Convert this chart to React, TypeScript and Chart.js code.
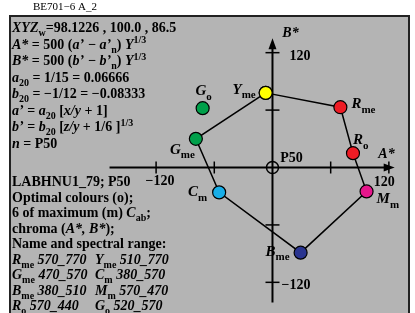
import React, { useEffect, useRef } from "react";
import { Chart, registerables } from "chart.js";
Chart.register(...registerables);

// ---- data ----
const polyNames = ["Y", "R", "R", "M", "B", "C", "G", "Y"];
const polySubs = ["me", "me", "o", "m", "me", "m", "me", "me"];
const polyA = [-7, 70, 83, 97, 29, -55, -79, -7];
const polyB = [78, 63, 15, -25, -89, -26, 30, 78];
const polyColors = ["#ffff00", "#ee1c25", "#ee1c25", "#e6168c", "#2a3590", "#18aee8", "#00a04a", "#ffff00"];
const openNames = ["G"];
const openSubs = ["o"];
const openA = [-72];
const openB = [62];
const openColors = ["#00a04a"];
const xTicks = [-120, -60, 60, 120];
const yTicks = [-120, -60, 60, 120];
const xTickLabels = ["\u2212120", "", "", "120"];
const yTickLabels = ["\u2212120", "", "", "120"];

const titleText = "BE701\u22126 A_2";
const FONT = '"Liberation Serif", "Times New Roman", serif';

type Seg = [string, string];
const upperLines: Seg[][] = [
  [["XYZ", "i"], ["w", "sub"], ["=98.1226 , 100.0 , 86.5", "b"]],
  [["A*", "i"], [" = 500 (", "b"], ["a\u2019 \u2212 a\u2019", "i"], ["n", "sub"], [") ", "b"], ["Y", "i"], ["1/3", "sup"]],
  [["B*", "i"], [" = 500 (", "b"], ["b\u2019 \u2212 b\u2019", "i"], ["n", "sub"], [") ", "b"], ["Y", "i"], ["1/3", "sup"]],
  [["a", "i"], ["20", "sub"], [" = 1/15 = 0.06666", "b"]],
  [["b", "i"], ["20", "sub"], [" = \u22121/12 = \u22120.08333", "b"]],
  [["a\u2019", "i"], [" = ", "b"], ["a", "i"], ["20", "sub"], [" [", "b"], ["x/y", "i"], [" + 1]", "b"]],
  [["b\u2019", "i"], [" = ", "b"], ["b", "i"], ["20", "sub"], [" [", "b"], ["z/y", "i"], [" + 1/6 ]", "b"], ["1/3", "sup"]],
  [["n", "i"], [" = P50", "b"]],
];
const lowerLines: Seg[][] = [
  [["LABHNU1_79; P50", "b"]],
  [["Optimal colours (o);", "b"]],
  [["6 of maximum (m) ", "b"], ["C", "i"], ["ab", "sub"], [";", "b"]],
  [["chroma (", "b"], ["A*, B*", "i"], [");", "b"]],
  [["Name and spectral range:", "b"]],
];
const rangeLeft: Seg[][] = [
  [["R", "i"], ["me", "sub"], [" 570_770", "i"]],
  [["G", "i"], ["me", "sub"], [" 470_570", "i"]],
  [["B", "i"], ["me", "sub"], [" 380_510", "i"]],
  [["R", "i"], ["o", "sub"], [" 570_440", "i"]],
];
const rangeRight: Seg[][] = [
  [["Y", "i"], ["me", "sub"], [" 510_770", "i"]],
  [["C", "i"], ["m", "sub"], [" 380_570", "i"]],
  [["M", "i"], ["m", "sub"], [" 570_470", "i"]],
  [["G", "i"], ["o", "sub"], [" 520_570", "i"]],
];

// label placement relative to point: [dx, dy, align]
const polyLabelPos: [number, number, string][] = [
  [-10, 1, "right"],
  [11, 1, "left"],
  [0, -9, "left"],
  [10, 12, "left"],
  [-11, 3, "right"],
  [-12, 4, "right"],
  [-1, 15, "right"],
  [0, 0, "none"],
];
const openLabelPos: [number, number, string][] = [[1, -13, "center"]];

function segFont(kind: string, size: number) {
  const s = kind === "sub" || kind === "sup" ? Math.round(size * 0.72) : size;
  const it = kind === "i" ? "italic " : "";
  return `${it}bold ${s}px ${FONT}`;
}
function segWidth(ctx: CanvasRenderingContext2D, segs: Seg[], size: number) {
  let w = 0;
  for (const [t, k] of segs) {
    ctx.font = segFont(k, size);
    w += ctx.measureText(t).width;
  }
  return w;
}
function drawRich(ctx: CanvasRenderingContext2D, x: number, y: number, segs: Seg[], size: number, align = "left") {
  let cx = x;
  const w = segWidth(ctx, segs, size);
  if (align === "right") cx = x - w;
  else if (align === "center") cx = x - w / 2;
  ctx.textAlign = "left";
  ctx.textBaseline = "alphabetic";
  for (const [t, k] of segs) {
    ctx.font = segFont(k, size);
    let yy = y;
    if (k === "sub") yy = y + size * 0.3;
    if (k === "sup") yy = y - size * 0.38;
    ctx.fillText(t, cx, yy);
    cx += ctx.measureText(t).width;
  }
}

const decor = {
  id: "decor",
  beforeDatasetsDraw(chart: any) {
    const ctx = chart.ctx as CanvasRenderingContext2D;
    const xs = chart.scales.x;
    const ys = chart.scales.y;
    ctx.save();
    // panel
    ctx.fillStyle = "#b4b4b4";
    ctx.fillRect(9, 15, 401, 300);
    ctx.strokeStyle = "#222";
    ctx.lineWidth = 2;
    ctx.strokeRect(10, 16, 399, 300);
    // title
    ctx.fillStyle = "#000";
    ctx.font = `11px ${FONT}`;
    ctx.textAlign = "left";
    ctx.textBaseline = "alphabetic";
    ctx.fillText(titleText, 33, 10);

    const ox = xs.getPixelForValue(0);
    const oy = ys.getPixelForValue(0);
    ctx.strokeStyle = "#000";
    ctx.fillStyle = "#000";
    ctx.lineWidth = 2;
    // horizontal axis
    const hx0 = xs.getPixelForValue(-168);
    const hx1 = xs.getPixelForValue(126);
    ctx.beginPath();
    ctx.moveTo(hx0, oy);
    ctx.lineTo(hx1 - 8, oy);
    ctx.stroke();
    ctx.beginPath();
    ctx.moveTo(hx1, oy);
    ctx.lineTo(hx1 - 11, oy - 4);
    ctx.lineTo(hx1 - 11, oy + 4);
    ctx.closePath();
    ctx.fill();
    // vertical axis
    const vy0 = ys.getPixelForValue(-141);
    const vy1 = ys.getPixelForValue(135);
    ctx.beginPath();
    ctx.moveTo(ox, vy0);
    ctx.lineTo(ox, vy1 + 8);
    ctx.stroke();
    ctx.beginPath();
    ctx.moveTo(ox, vy1);
    ctx.lineTo(ox - 4, vy1 + 11);
    ctx.lineTo(ox + 4, vy1 + 11);
    ctx.closePath();
    ctx.fill();
    // ticks
    ctx.lineWidth = 1.5;
    for (const t of xTicks) {
      const p = xs.getPixelForValue(t);
      ctx.beginPath();
      ctx.moveTo(p, oy - 6);
      ctx.lineTo(p, oy + 6);
      ctx.stroke();
    }
    for (const t of yTicks) {
      const p = ys.getPixelForValue(t);
      ctx.beginPath();
      ctx.moveTo(ox - 7, p);
      ctx.lineTo(ox + 7, p);
      ctx.stroke();
    }
    // origin circle
    ctx.lineWidth = 1.5;
    ctx.beginPath();
    ctx.arc(ox, oy, 6, 0, Math.PI * 2);
    ctx.stroke();
    // tick labels
    ctx.font = `bold 14px ${FONT}`;
    ctx.textBaseline = "alphabetic";
    xTicks.forEach((t, i) => {
      if (!xTickLabels[i]) return;
      const p = xs.getPixelForValue(t);
      if (t < 0) {
        ctx.textAlign = "center";
        ctx.fillText(xTickLabels[i], p + 4, oy + 17);
      } else {
        ctx.textAlign = "right";
        ctx.fillText(xTickLabels[i], hx1, oy + 18);
      }
    });
    yTicks.forEach((t, i) => {
      if (!yTickLabels[i]) return;
      const p = ys.getPixelForValue(t);
      ctx.textAlign = "right";
      ctx.fillText(yTickLabels[i], ox + 38, p + 7);
    });
    // axis names
    ctx.font = `italic bold 14px ${FONT}`;
    ctx.textAlign = "center";
    ctx.fillText("A*", ox + 114, oy - 10);
    ctx.fillText("B*", ox + 18, ys.getPixelForValue(136));
    ctx.font = `bold 14px ${FONT}`;
    ctx.fillText("P50", ox + 19, oy - 6);
    ctx.restore();
  },
  afterDatasetsDraw(chart: any) {
    const ctx = chart.ctx as CanvasRenderingContext2D;
    const xs = chart.scales.x;
    const ys = chart.scales.y;
    ctx.save();
    ctx.fillStyle = "#000";
    // point labels
    polyNames.forEach((n, i) => {
      const [dx, dy, al] = polyLabelPos[i];
      if (al === "none") return;
      const px = xs.getPixelForValue(polyA[i]);
      const py = ys.getPixelForValue(polyB[i]);
      drawRich(ctx, px + dx, py + dy, [[n, "i"], [polySubs[i], "sub"]], 15, al);
    });
    openNames.forEach((n, i) => {
      const [dx, dy, al] = openLabelPos[i];
      const px = xs.getPixelForValue(openA[i]);
      const py = ys.getPixelForValue(openB[i]);
      drawRich(ctx, px + dx, py + dy, [[n, "i"], [openSubs[i], "sub"]], 15, al);
    });
    // text block
    upperLines.forEach((l, i) => drawRich(ctx, 12, 32 + i * 16.5, l, 14));
    lowerLines.forEach((l, i) => drawRich(ctx, 12, 186 + i * 15.5, l, 14));
    rangeLeft.forEach((l, i) => drawRich(ctx, 12, 263.5 + i * 15.5, l, 14));
    rangeRight.forEach((l, i) => drawRich(ctx, 95, 263.5 + i * 15.5, l, 14));
    ctx.restore();
  },
};

export default function App() {
  const ref = useRef<HTMLCanvasElement>(null);
  useEffect(() => {
    if (!ref.current) return;
    const chart = new Chart(ref.current, {
      type: "scatter",
      data: {
        datasets: [
          {
            type: "line",
            data: polyA.map((a, i) => ({ x: a, y: polyB[i] })),
            borderColor: "#000",
            borderWidth: 1.5,
            pointBackgroundColor: polyColors,
            pointBorderColor: "#000",
            pointBorderWidth: 1.2,
            pointRadius: 6.5,
            showLine: true,
            fill: false,
            tension: 0,
          },
          {
            data: openA.map((a, i) => ({ x: a, y: openB[i] })),
            pointBackgroundColor: openColors,
            pointBorderColor: "#000",
            pointBorderWidth: 1.2,
            pointRadius: 6.5,
            showLine: false,
          },
        ],
      },
      options: {
        animation: false,
        responsive: false,
        devicePixelRatio: 1,
        layout: { padding: 0 },
        plugins: { legend: { display: false }, tooltip: { enabled: false }, title: { display: false } },
        scales: {
          x: { type: "linear", min: -273, max: 139, display: false },
          y: { type: "linear", min: -144, max: 167, display: false },
        },
      },
      plugins: [decor],
    } as any);
    return () => chart.destroy();
  }, []);
  return (
    <div style={{ position: "absolute", left: 0, top: 0, width: 415, height: 313 }}>
      <canvas ref={ref} width={415} height={313} style={{ display: "block" }} />
    </div>
  );
}
